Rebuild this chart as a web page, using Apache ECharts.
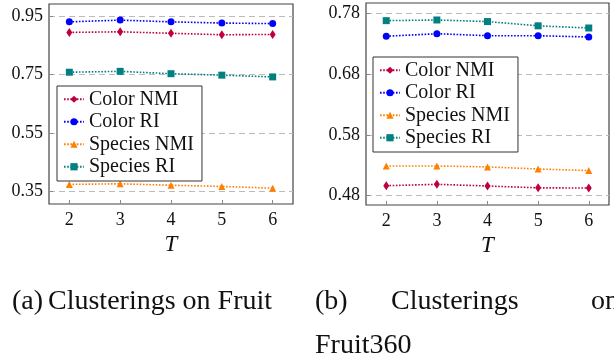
<!DOCTYPE html>
<html>
<head>
<meta charset="utf-8">
<script src="https://cdn.jsdelivr.net/npm/echarts@6/dist/echarts.min.js"></script>
<style>
  html, body { margin: 0; padding: 0; background: #fff; }
  #chart { width: 614px; height: 364px; }
</style>
</head>
<body>
<div id="chart"></div>
<script>
// ---- data ----
const T = [2, 3, 4, 5, 6];
const seriesNames = ['Color NMI', 'Color RI', 'Species NMI', 'Species RI'];

// (a) Fruit
const fruitColorNMI   = [0.894, 0.896, 0.891, 0.886, 0.887];
const fruitColorRI    = [0.930, 0.936, 0.930, 0.926, 0.924];
const fruitSpeciesNMI = [0.375, 0.377, 0.372, 0.368, 0.362];
const fruitSpeciesRI  = [0.758, 0.761, 0.753, 0.748, 0.742];

// (b) Fruit360
const f360ColorNMI   = [0.4965, 0.4988, 0.4960, 0.4930, 0.4927];
const f360ColorRI    = [0.7427, 0.7470, 0.7437, 0.7437, 0.7416];
const f360SpeciesNMI = [0.5290, 0.5290, 0.5275, 0.5240, 0.5214];
const f360SpeciesRI  = [0.7685, 0.7696, 0.7670, 0.7600, 0.7564];

const xTicks = [2, 3, 4, 5, 6];
const leftYTicks = [0.35, 0.55, 0.75, 0.95];
const rightYTicks = [0.48, 0.58, 0.68, 0.78];

const captionA = ['(a)', 'Clusterings on Fruit'];
const captionB = ['(b)', 'Clusterings', 'on', 'Fruit360'];

// ---- styles ----
const FONT = 'Liberation Serif';
const colors = ['#bf0040', '#0000ff', '#ff8000', '#008080'];
const symbols = ['diamond', 'circle', 'triangle', 'rect'];
const symbolSizes = [[6, 9], 7, 7, 7];

function pairs(vals) { return T.map((t, i) => [t, vals[i]]); }

function makeXAxis(gridIndex) {
  return {
    type: 'value', gridIndex, min: 1.6, max: 6.4,
    axisLine: { show: false },
    axisTick: { show: true, inside: true, length: 4, lineStyle: { color: '#888' }, customValues: xTicks },
    axisLabel: { customValues: xTicks, color: '#111', fontFamily: FONT, fontSize: 18, margin: 7 },
    splitLine: { show: false },
    name: 'T', nameLocation: 'middle', nameGap: 14,
    nameTextStyle: { fontFamily: FONT, fontStyle: 'italic', fontSize: 23, color: '#111' }
  };
}
function makeYAxis(gridIndex, min, max, ticks) {
  return {
    type: 'value', gridIndex, min, max,
    axisLine: { show: false },
    axisTick: { show: true, inside: true, length: 4, lineStyle: { color: '#888' }, customValues: ticks },
    axisLabel: { customValues: ticks, color: '#111', fontFamily: FONT, fontSize: 18, margin: 6,
                 formatter: v => v.toFixed(2) },
    splitLine: { show: true, lineStyle: { color: '#bbb', type: [6, 4], width: 1 } }
  };
}
function makeSeries(idx, name, vals) {
  const k = seriesNames.indexOf(name);
  return {
    type: 'line', name, xAxisIndex: idx, yAxisIndex: idx,
    data: pairs(vals),
    symbol: symbols[k], symbolSize: symbolSizes[k],
    itemStyle: { color: colors[k] },
    lineStyle: { color: colors[k], width: 1.6, type: [1.6, 1.6] },
    animation: false, z: 3
  };
}
function makeLegend(left, top) {
  return {
    data: seriesNames, orient: 'vertical', left, top,
    backgroundColor: '#fff', borderColor: '#333', borderWidth: 1,
    padding: [3, 8, 4, 6], itemGap: 2, itemWidth: 20, itemHeight: 9,
    textStyle: { fontFamily: FONT, fontSize: 20, lineHeight: 20.5, color: '#111' },
    selectedMode: false
  };
}
const capStyle = { fontFamily: FONT, fontSize: 28, fontWeight: 'normal', color: '#111', lineHeight: 28 };

const option = {
  backgroundColor: '#fff',
  animation: false,
  title: [
    { text: captionA[0], left: 12, top: 288, padding: 0, textStyle: capStyle },
    { text: captionA[1], left: 48, top: 288, padding: 0, textStyle: capStyle },
    { text: captionB[0], left: 315, top: 288, padding: 0, textStyle: capStyle },
    { text: captionB[1], left: 391, top: 288, padding: 0, textStyle: capStyle },
    { text: captionB[2], left: 591, top: 288, padding: 0, textStyle: capStyle },
    { text: captionB[3], left: 315, top: 332, padding: 0, textStyle: capStyle }
  ],
  grid: [
    { left: 49, top: 4, width: 244, height: 200, show: true, borderColor: '#444', borderWidth: 1.2, containLabel: false },
    { left: 366, top: 3, width: 243, height: 202, show: true, borderColor: '#444', borderWidth: 1.2, containLabel: false }
  ],
  xAxis: [makeXAxis(0), makeXAxis(1)],
  yAxis: [makeYAxis(0, 0.308, 0.991, leftYTicks), makeYAxis(1, 0.4647, 0.7976, rightYTicks)],
  legend: [makeLegend(57, 86), makeLegend(373, 57)],
  series: [
    makeSeries(0, 'Color NMI', fruitColorNMI),
    makeSeries(0, 'Color RI', fruitColorRI),
    makeSeries(0, 'Species NMI', fruitSpeciesNMI),
    makeSeries(0, 'Species RI', fruitSpeciesRI),
    makeSeries(1, 'Color NMI', f360ColorNMI),
    makeSeries(1, 'Color RI', f360ColorRI),
    makeSeries(1, 'Species NMI', f360SpeciesNMI),
    makeSeries(1, 'Species RI', f360SpeciesRI)
  ]
};

const chart = echarts.init(document.getElementById('chart'), null, { renderer: 'canvas' });
chart.setOption(option);
</script>
</body>
</html>
